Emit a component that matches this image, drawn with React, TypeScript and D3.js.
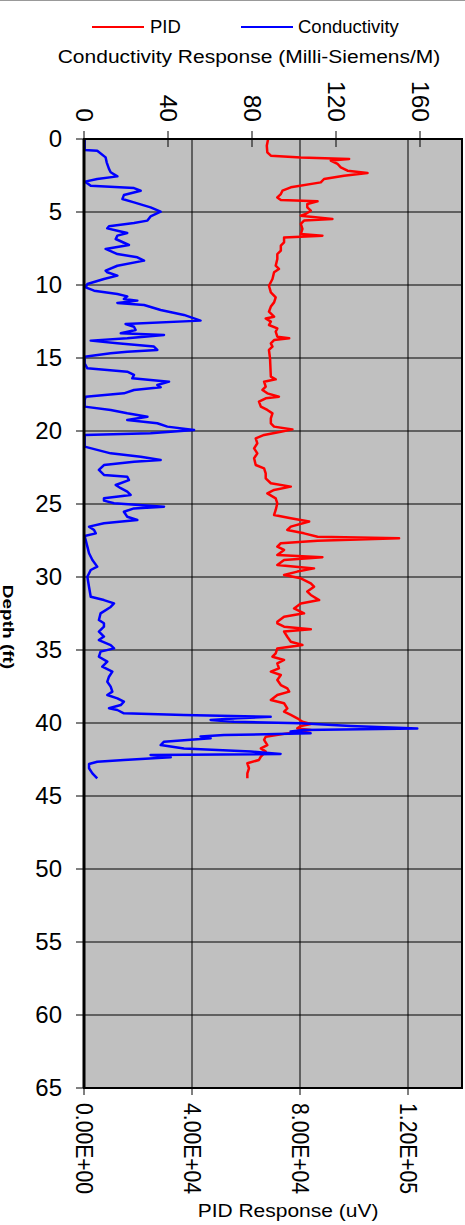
import React from "react";
import * as d3 from "d3";

// Conductivity (mS/m) vs depth (ft)
const condDepth = [0,0.75,0.8,1.26,1.6,2.05,2.28,2.56,2.74,2.92,3.2,3.36,3.54,3.84,4.11,4.34,4.68,4.98,5.3,5.59,5.75,5.98,6.12,6.28,6.44,6.62,6.85,7.26,7.53,7.88,8.1,8.33,8.68,9.02,9.13,9.36,9.59,9.93,10.16,10.39,10.62,10.78,10.96,11.07,11.23,11.37,11.71,12.05,12.44,12.67,12.86,13.08,13.31,13.42,13.65,13.81,13.99,14.22,14.45,14.57,14.68,14.91,15.37,15.71,15.94,16.16,16.39,16.62,16.85,17.01,17.19,17.42,17.65,17.88,18.33,18.56,18.79,19.02,19.25,19.47,19.7,19.93,20.16,20.27,21.07,21.53,21.76,21.99,22.1,22.33,22.67,23.01,23.13,23.36,23.7,23.92,24.15,24.38,24.61,24.77,24.95,25.18,25.3,25.53,25.87,26.1,26.32,26.55,26.78,27.01,27.19,27.47,27.92,28.37,28.84,29.29,29.52,29.98,30.68,31.35,31.58,31.81,32.05,32.49,32.95,33.17,33.4,33.74,34.08,34.32,34.66,34.89,35.11,35.46,35.8,36.14,36.48,36.83,37.17,37.51,37.85,38.08,38.31,38.54,38.77,38.99,39.11,39.34,39.45,39.57,39.68,39.79,39.91,40.02,40.21,40.37,40.48,40.59,40.71,40.82,40.93,41.05,41.28,41.51,41.74,41.96,42.12,42.19,42.35,42.53,42.65,42.81,43.1,43.45,43.79];
const condValue = [0.3,0.3,6.3,10.3,10.8,11.9,12.7,15.9,6.3,0.5,3.2,23.8,27,19,18.3,23.8,31.7,36.5,31.7,30.2,23.8,11.9,11.1,15.9,20.6,15.9,15.1,21.4,10.3,15.9,25.4,28.6,15.9,10.3,11.1,15.9,9.5,1.6,0.8,4.8,15.9,20.6,19,25.4,15.9,28.6,36.5,47.6,55.5,19.8,23.8,24.6,17.5,38.1,20.6,3.2,15.9,33.3,34.9,20.6,12.7,0.3,0.3,1.6,20.6,23.8,23,40.5,34.9,36.5,23.8,19,0.8,0.3,0.3,12.7,20.6,30.2,20.6,34.9,39.7,52.4,31.7,0.3,0.3,12.7,27,36.5,23.8,9.5,7.1,9.5,20.6,21.4,15.1,17.5,20.6,22.2,9.5,9.5,14.3,38.1,23.8,19,20.6,25.4,9.5,2.4,4.8,5.6,0.3,0.8,1.6,2.4,4,6.3,3.2,1.6,2.4,3.2,9.5,14.3,12.7,7.9,7.1,9.5,9.5,7.1,9.5,7.1,12.7,14.3,7.9,7.1,11.1,8.7,13.5,11.9,11.1,12.7,13.5,11.1,15.9,19,17.5,11.9,15.9,19,47.6,88.9,73,60.3,71.4,103.2,127,158.7,104.7,98.4,107.9,66.7,55.5,60.3,38.1,36.5,47.6,79.4,93.6,31.7,41.3,19,6.3,2.4,2.4,4,6.3];

// PID response (uV) vs depth (ft)
const pidDepth = [0,0.46,0.91,1.14,1.26,1.37,1.48,1.71,1.94,2.17,2.33,2.51,2.74,2.97,3.31,3.54,3.77,4.0,4.18,4.27,4.45,4.68,4.91,5.14,5.25,5.48,5.59,5.82,6.16,6.51,6.62,6.74,7.08,7.31,7.65,7.88,8.22,8.68,8.9,9.13,9.59,10.05,10.5,10.84,11.19,11.48,11.83,12.17,12.29,12.51,12.74,12.97,13.2,13.54,13.65,13.77,14.0,14.22,14.45,15.02,16.28,16.46,16.62,16.96,17.19,17.42,17.65,17.76,17.99,18.33,18.56,18.79,19.13,19.47,19.7,19.89,20.05,20.27,20.5,20.84,21.19,21.53,21.87,22.33,22.56,22.9,23.24,23.58,23.81,24.04,24.27,24.61,24.95,25.41,25.75,25.97,26.2,26.55,26.78,27.01,27.24,27.35,27.51,27.69,27.92,28.15,28.49,28.65,28.84,29.18,29.41,29.63,29.86,30.09,30.43,30.66,31.0,31.23,31.58,31.81,32.15,32.49,32.72,33.06,33.17,33.4,33.58,33.74,34.09,34.43,34.66,34.89,35.23,35.46,35.68,35.91,36.26,36.48,36.71,37.05,37.4,37.63,37.85,38.08,38.42,38.65,39.0,39.22,39.45,39.68,39.91,40.07,40.21,40.37,40.48,40.71,40.94,41.16,41.51,41.74,41.96,42.31,42.53,42.76,43.1,43.45,43.79];
const pidValue = [68200,67700,67900,69200,80300,98200,91400,93900,95100,97600,105000,96300,88900,87700,76600,73500,72900,71600,72900,86500,82700,82700,84000,82100,80300,92000,81500,80300,80900,80300,88300,74100,74100,72900,72900,71600,71600,71000,72200,70400,69800,68500,69200,71000,70400,69200,68500,70400,67300,69200,68500,71600,71000,71600,76000,70400,69200,69800,68500,68900,69200,71000,66700,67300,66100,67900,72200,67300,64800,65500,67900,69800,69200,69200,70400,77200,72900,66700,63600,64200,63000,64200,63000,63600,66700,67300,67300,69200,76600,70400,67900,71000,71600,71000,70400,76600,83400,76600,75300,81500,86500,116700,86500,72900,71600,74100,71600,88300,74100,71600,85200,79000,74100,80300,84000,85200,82700,84000,87100,80300,77800,81500,74100,71600,71600,74100,84000,74100,75300,76600,80900,71600,71000,69800,74100,71600,72200,69200,72900,71600,72900,75300,76000,71600,69200,74100,75300,74100,76600,79000,80900,84000,80300,79000,84000,75300,67300,66700,67900,65500,67300,65500,64800,60500,61100,60500,60500];

const depthTicks = [0,5,10,15,20,25,30,35,40,45,50,55,60,65];
const condTicks = [0,40,80,120,160];
const pidTicks = [0,40000,80000,120000];
const pidTickLabels = ["0.00E+00","4.00E+04","8.00E+04","1.20E+05"];

const W = 465, H = 1225;
const L = 84, R = 462, T = 139, B = 1088;
const FONT = "'Liberation Sans', Arial, sans-serif";

export default function App() {
  const y = d3.scaleLinear().domain([0, 65]).range([T, B]);
  const xc = d3.scaleLinear().domain([0, 180]).range([L, R]);
  const xp = d3.scaleLinear().domain([0, 140000]).range([L, R]);

  const condLine = d3.line<number>().x((_, i) => xc(condValue[i])).y((d) => y(d));
  const pidLine = d3.line<number>().x((_, i) => xp(pidValue[i])).y((d) => y(d));

  return (
    <svg width={W} height={H} style={{ position: "absolute", left: 0, top: 0, background: "#fff" }} fontFamily={FONT}>
      <line x1={0} x2={W} y1={0.5} y2={0.5} stroke="#999" strokeWidth={1} />
      {/* legend */}
      <line x1={92} x2={144} y1={27} y2={27} stroke="#ff0000" strokeWidth={2} />
      <text x={150} y={33} fontSize={18.5}>PID</text>
      <line x1={241} x2={293} y1={27} y2={27} stroke="#0000ff" strokeWidth={2} />
      <text x={298} y={33} fontSize={18.5}>Conductivity</text>
      {/* top title */}
      <text transform={`translate(249,63) scale(1,0.9)`} textAnchor="middle" fontSize={21}>
        Conductivity Response (Milli-Siemens/M)
      </text>

      {/* plot area */}
      <rect x={L} y={T} width={R - L} height={B - T} fill="#c0c0c0" />
      {depthTicks.map((d) => (
        <line key={"hg" + d} x1={L} x2={R} y1={y(d)} y2={y(d)} stroke="#000" strokeWidth={1} />
      ))}
      {pidTicks.slice(1).map((v) => (
        <line key={"vg" + v} x1={xp(v)} x2={xp(v)} y1={T} y2={B} stroke="#000" strokeWidth={1} />
      ))}

      <path d={pidLine(pidDepth) || ""} fill="none" stroke="#ff0000" strokeWidth={2.5} strokeLinejoin="round" />
      <path d={condLine(condDepth) || ""} fill="none" stroke="#0000ff" strokeWidth={2.5} strokeLinejoin="round" />

      <rect x={L} y={T} width={R - L} height={B - T} fill="none" stroke="#000" strokeWidth={2} />
      <line x1={L} x2={L} y1={T} y2={B} stroke="#000" strokeWidth={3} />

      {/* left axis */}
      {depthTicks.map((d) => (
        <g key={"lt" + d}>
          <line x1={76} x2={L} y1={y(d)} y2={y(d)} stroke="#000" strokeWidth={1} />
          <text x={62} y={y(d)} dy="0.35em" textAnchor="end" fontSize={24}>{d}</text>
        </g>
      ))}
      <text transform={`translate(8,627) rotate(90) scale(1,0.75)`} textAnchor="middle" dominantBaseline="central" fontSize={19} fontWeight="bold">
        Depth (ft)
      </text>

      {/* top axis (conductivity) */}
      {condTicks.map((v) => (
        <g key={"tt" + v}>
          <line x1={xc(v)} x2={xc(v)} y1={131} y2={147} stroke="#000" strokeWidth={1} />
          <text transform={`translate(${xc(v)},122) rotate(90)`} textAnchor="end" dominantBaseline="central" fontSize={24.5}>{v}</text>
        </g>
      ))}

      {/* bottom axis (PID) */}
      {pidTicks.map((v, i) => (
        <g key={"bt" + v}>
          <line x1={xp(v)} x2={xp(v)} y1={B} y2={B + 7} stroke="#000" strokeWidth={1} />
          <text transform={`translate(${xp(v)},1103) rotate(90) scale(0.9,1)`} textAnchor="start" dominantBaseline="central" fontSize={23.5}>{pidTickLabels[i]}</text>
        </g>
      ))}
      <text transform={`translate(288,1217) scale(1,0.85)`} textAnchor="middle" fontSize={21}>
        PID Response (uV)
      </text>
    </svg>
  );
}
